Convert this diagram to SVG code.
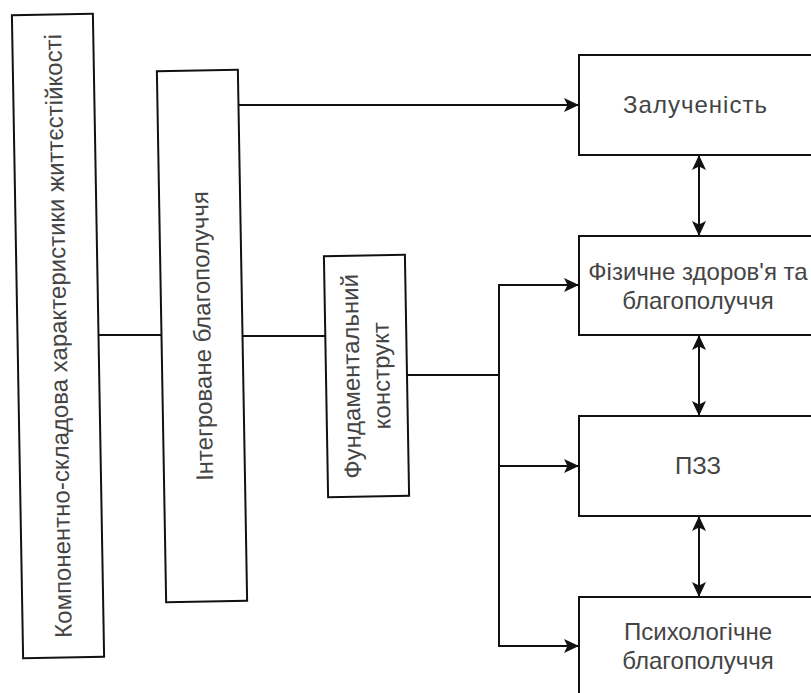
<svg xmlns="http://www.w3.org/2000/svg" width="811" height="693" viewBox="0 0 811 693">
  <style>
    .box { fill: #ffffff; stroke: #111111; stroke-width: 2; }
    .lbl { font-family: "Liberation Sans", Arial, Helvetica, sans-serif; font-size: 24px; fill: #444444; text-anchor: middle; }
    .conn { fill: none; stroke: #111111; stroke-width: 2; }
  </style>
  <defs>
    <marker id="arrow" markerUnits="userSpaceOnUse" markerWidth="15" markerHeight="15" viewBox="0 0 15 15" refX="14" refY="7.5" orient="auto-start-reverse">
      <path d="M0,0.5 L15,7.5 L0,14.5 L3.5,7.5 Z" fill="#111111"/>
    </marker>
  </defs>
  <rect width="811" height="693" fill="#ffffff"/>

  <g id="connectors">
    <line class="conn" x1="98" y1="335" x2="162" y2="335"/>
    <line class="conn" x1="242" y1="336" x2="326" y2="336"/>
    <line class="conn" x1="239" y1="105" x2="578" y2="105" marker-end="url(#arrow)"/>
    <line class="conn" x1="407" y1="375" x2="499" y2="375"/>
    <line class="conn" x1="499" y1="285" x2="499" y2="646"/>
    <line class="conn" x1="498" y1="285" x2="578" y2="285" marker-end="url(#arrow)"/>
    <line class="conn" x1="498" y1="466" x2="578" y2="466" marker-end="url(#arrow)"/>
    <line class="conn" x1="498" y1="646" x2="578" y2="646" marker-end="url(#arrow)"/>
    <line class="conn" x1="699" y1="156" x2="699" y2="235" marker-start="url(#arrow)" marker-end="url(#arrow)"/>
    <line class="conn" x1="699" y1="336" x2="699" y2="415" marker-start="url(#arrow)" marker-end="url(#arrow)"/>
    <line class="conn" x1="699" y1="517" x2="699" y2="596" marker-start="url(#arrow)" marker-end="url(#arrow)"/>
  </g>

  <g id="node-resilience" transform="translate(58,336) rotate(-1)">
    <rect class="box" x="-40.5" y="-321.5" width="81" height="643"/>
    <text class="lbl" transform="rotate(-90)" x="0" y="8.5">Компонентно-складова характеристики життєстійкості</text>
  </g>

  <g id="node-integrated" transform="translate(202,336) rotate(-1)">
    <rect class="box" x="-40.5" y="-265.5" width="81" height="531"/>
    <text class="lbl" transform="rotate(-90)" x="0" y="8.5">Інтегроване благополуччя</text>
  </g>

  <g id="node-fundamental" transform="translate(366.5,376) rotate(-1)">
    <rect class="box" x="-40.5" y="-120.5" width="81" height="241"/>
    <text class="lbl" transform="rotate(-90)" x="0" y="-7">Фундаментальний</text>
    <text class="lbl" transform="rotate(-90)" x="0" y="23">конструкт</text>
  </g>

  <g id="node-engagement">
    <rect class="box" x="579" y="55" width="236" height="100"/>
    <text class="lbl" x="695" y="113" textLength="144" lengthAdjust="spacing">Залученість</text>
  </g>

  <g id="node-physical">
    <rect class="box" x="579" y="236" width="236" height="99"/>
    <text class="lbl" x="698" y="280">Фізичне здоров'я та</text>
    <text class="lbl" x="698" y="309">благополуччя</text>
  </g>

  <g id="node-pzz">
    <rect class="box" x="579" y="416" width="236" height="100"/>
    <text class="lbl" x="698" y="474">ПЗЗ</text>
  </g>

  <g id="node-psych">
    <rect class="box" x="579" y="597" width="236" height="100"/>
    <text class="lbl" x="698" y="640">Психологічне</text>
    <text class="lbl" x="698" y="669">благополуччя</text>
  </g>
</svg>
